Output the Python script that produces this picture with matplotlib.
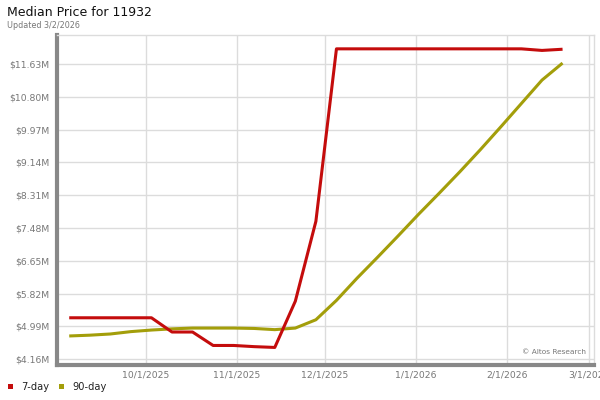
"""
median price chart for 11932, 7-day and 90-day
"""

import datetime as dt

import matplotlib
matplotlib.use('Agg')
import matplotlib.pyplot as plt
from matplotlib.patches import Rectangle

# weekly dates, Sep 5 2025 .. Feb 20 2026
dates = [dt.date(2025, 9, 5) + dt.timedelta(days=7 * i) for i in range(25)]

price_7day = [5.21, 5.21, 5.21, 5.21, 5.21, 4.85, 4.85, 4.51, 4.51, 4.48,
              4.46, 5.63, 7.65, 12.01, 12.01, 12.01, 12.01, 12.01, 12.01, 12.01,
              12.01, 12.01, 12.01, 11.97, 12.00]

price_90day = [4.75, 4.77, 4.80, 4.86, 4.90, 4.93, 4.95, 4.95, 4.95, 4.94,
               4.91, 4.95, 5.16, 5.65, 6.21, 6.74, 7.28, 7.83, 8.36, 8.90,
               9.46, 10.04, 10.63, 11.22, 11.65]

y_ticks = [4.16, 4.99, 5.82, 6.65, 7.48, 8.31, 9.14, 9.97, 10.80, 11.63]
x_ticks = [dt.date(2025, 10, 1), dt.date(2025, 11, 1), dt.date(2025, 12, 1),
           dt.date(2026, 1, 1), dt.date(2026, 2, 1), dt.date(2026, 3, 1)]

RED = '#c40c0c'
OLIVE = '#a39e0a'
GRID = '#dcdcdc'
AXIS = '#888888'
LABEL = '#777777'

fig = plt.figure(figsize=(6, 4), dpi=100)
ax = fig.add_axes([0.0958, 0.0875, 0.8942, 0.825])

ax.plot(dates, price_90day, color=OLIVE, linewidth=2.2, solid_capstyle='butt', zorder=3)
ax.plot(dates, price_7day, color=RED, linewidth=2.2, solid_capstyle='butt', zorder=4)

ax.set_xlim(dt.datetime(2025, 9, 1, 0), dt.datetime(2026, 3, 2, 17))
ax.set_ylim(4.016, 12.36)

ax.set_yticks(y_ticks)
ax.set_yticklabels([f'${v:.2f}M' for v in y_ticks])
ax.set_xticks(x_ticks)
ax.set_xticklabels([f'{d.month}/{d.day}/{d.year}' for d in x_ticks])

ax.tick_params(axis='both', length=0, labelsize=6.7, labelcolor=LABEL)
ax.tick_params(axis='y', pad=6)
ax.tick_params(axis='x', pad=4)

ax.grid(True, color=GRID, linewidth=1.0)
ax.set_axisbelow(True)

for side in ['top', 'right']:
    ax.spines[side].set_color(GRID)
    ax.spines[side].set_linewidth(1.0)
for side in ['left', 'bottom']:
    ax.spines[side].set_color(AXIS)
    ax.spines[side].set_linewidth(3.0)

# watermark inside the plot, bottom right
ax.text(0.985, 0.04, '\u00a9 Altos Research', transform=ax.transAxes, ha='right', va='center',
        fontsize=5.3, color='#777777', zorder=5,
        bbox=dict(facecolor='white', edgecolor='none', pad=1.5))

# titles
fig.text(0.012, 0.968, 'Median Price for 11932', fontsize=9, color='#111111', ha='left', va='center')
fig.text(0.012, 0.937, 'Updated 3/2/2026', fontsize=5.8, color='#777777', ha='left', va='center')

# legend below the chart
for x, color, label in [(0.013, RED, '7-day'), (0.098, OLIVE, '90-day')]:
    fig.patches.append(Rectangle((x, 0.027), 0.0085, 0.0125, transform=fig.transFigure,
                                 facecolor=color, edgecolor='none'))
    fig.text(x + 0.023, 0.033, label, fontsize=7.1, color='#222222', ha='left', va='center')

fig.savefig('out.png', dpi=100)
